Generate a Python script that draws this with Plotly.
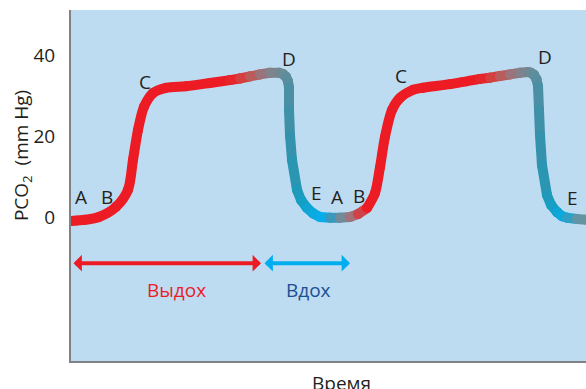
import plotly.graph_objects as go

# capnogram: time (arbitrary units) vs PCO2 (mm Hg), two breathing cycles
t = [0.0, 1.4, 2.8, 4.5, 5.7, 6.2, 6.7, 7.3, 8.2, 9.5,
     11.5, 13.9, 15.9, 16.9, 17.9, 18.9, 19.9, 20.8, 21.2, 21.5,
     21.7, 21.8, 21.8, 21.9, 22.1, 22.6, 23.0, 23.6, 24.2, 24.9,
     25.9, 26.9, 27.9, 28.7, 29.6, 30.4, 30.9, 31.4, 32.1, 32.9,
     34.2, 35.2, 37.9, 40.9, 41.9, 42.9, 43.9, 44.9, 45.7, 46.0,
     46.3, 46.55, 46.7, 46.8, 46.9, 47.1, 47.6, 48.0, 48.6, 49.1,
     49.6, 50.6, 51.5]
pco2 = [-1.0, -0.7, 0.0, 2.5, 6.7, 14.1, 21.5, 27.2, 30.6, 31.9,
        32.3, 33.1, 33.8, 34.2, 34.7, 35.2, 35.6, 35.6, 35.3, 34.6,
        33.5, 31.9, 26.4, 20.2, 14.1, 6.7, 4.2, 2.2, 0.9, 0.0,
        -0.2, -0.2, 0.0, 0.7, 2.2, 5.9, 12.3, 19.8, 26.4, 29.4,
        31.4, 31.9, 32.8, 34.1, 34.4, 34.8, 35.2, 35.6, 35.8, 35.6,
        35.1, 34.0, 32.3, 26.4, 20.2, 12.8, 5.4, 3.0, 1.2, 0.2,
        -0.2, -0.5, -0.7]

# colour of each segment between consecutive points (red = expiration, blue = inspiration)
RED = "#ed1c24"
fade_out = ["#e5262b", "#d4403f", "#b95d5c", "#9a747a", "#80828c", "#738791",
            "#6a8b98", "#608d9c", "#588e9f", "#4a8fa3", "#3f91a8", "#3592ac",
            "#2a96b2", "#209ab9", "#169fc4", "#0fa4d2", "#0aa9e0"]
fade_in = ["#08acea", "#3c98bb", "#758a97", "#a4717a", "#cf4348"]
seg_colors = [RED] * 12 + fade_out + fade_in + [RED] * 9 + fade_out + ["#2ea0c6", "#6394a3"]

labels = ["A", "B", "C", "D", "E", "A", "B", "C", "D", "E"]
label_t = [0.95, 3.55, 7.4, 21.8, 24.55, 26.55, 28.75, 32.95, 47.4, 50.1]
label_y = [5.0, 5.0, 33.3, 39.0, 5.9, 4.9, 5.3, 34.8, 39.6, 4.6]

FONT = "Open Sans"
TXT = "#231f20"

fig = go.Figure()

start = 0
for i in range(1, len(seg_colors) + 1):
    if i == len(seg_colors) or seg_colors[i] != seg_colors[start]:
        c = seg_colors[start]
        fig.add_trace(go.Scatter(x=t[start:i + 1], y=pco2[start:i + 1],
                                 mode="lines+markers",
                                 line=dict(color=c, width=10, shape="spline", smoothing=0.8),
                                 marker=dict(color=c, size=10),
                                 hoverinfo="skip", showlegend=False))
        start = i

for s, x, y in zip(labels, label_t, label_y):
    fig.add_annotation(x=x, y=y, text=s, showarrow=False,
                       font=dict(family=FONT, size=19, color=TXT))

# phase arrows
fig.add_annotation(x=19.0, y=-11.4, ax=0.1, ay=-11.4, axref="x", ayref="y",
                   text="", showarrow=True, arrowside="end+start",
                   arrowhead=1, startarrowhead=1, arrowsize=0.7, startarrowsize=0.7,
                   arrowwidth=4, arrowcolor=RED)
fig.add_annotation(x=27.9, y=-11.4, ax=19.2, ay=-11.4, axref="x", ayref="y",
                   text="", showarrow=True, arrowside="end+start",
                   arrowhead=1, startarrowhead=1, arrowsize=0.7, startarrowsize=0.7,
                   arrowwidth=4, arrowcolor="#00aeef")
fig.add_annotation(x=10.5, y=-18.0, text="Выдох", showarrow=False,
                   font=dict(family=FONT, size=19, color=RED))
fig.add_annotation(x=23.7, y=-18.0, text="Вдох", showarrow=False,
                   font=dict(family=FONT, size=19, color="#1b4f91"))

fig.add_annotation(xref="paper", yref="paper", x=-0.095, y=0.584,
                   xanchor="center", yanchor="middle",
                   text="PCO<sub>2</sub>  (mm Hg)", textangle=-90, showarrow=False,
                   font=dict(family=FONT, size=19, color=TXT))
fig.add_annotation(xref="paper", yref="paper", x=0.526, y=-0.02,
                   xanchor="center", yanchor="top",
                   text="Время", showarrow=False,
                   font=dict(family=FONT, size=19, color=TXT))

fig.update_xaxes(range=[0, 51.5], showgrid=False, zeroline=False, showticklabels=False,
                 showline=True, linecolor="#808285", linewidth=2)
fig.update_yaxes(range=[-35.56, 51.11], tickvals=[0, 20, 40], showgrid=False, zeroline=False,
                 showline=True, linecolor="#808285", linewidth=2, ticks="",
                 ticklabelstandoff=10, tickfont=dict(family=FONT, size=19, color=TXT))
fig.update_layout(width=586, height=389, margin=dict(l=71, r=0, t=10, b=28),
                  plot_bgcolor="#bddcf2", paper_bgcolor="white")

fig.write_html("out.html", config={"displayModeBar": False},
               post_script="document.body.style.margin = '0';")
